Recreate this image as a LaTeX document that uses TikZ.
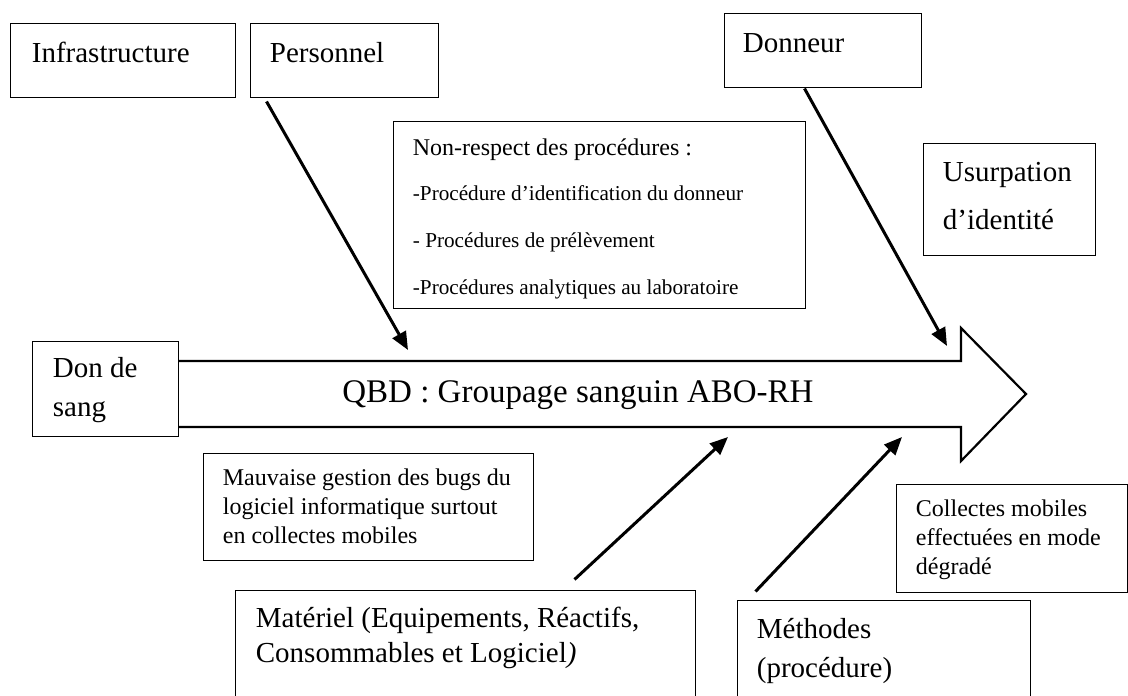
\documentclass[tikz,border=0pt]{standalone}
\usepackage{fontspec}
\setmainfont{Liberation Serif}
\usetikzlibrary{arrows.meta,fit}

\begin{document}
\begin{tikzpicture}[
  x=0.5pt, y=-0.5pt,
  >={Triangle[length=9pt,width=7.5pt]},
  box/.style={draw, line width=0.5pt, inner sep=0pt},
  lbl/.style={anchor=base west, inner sep=0pt, align=left,
              font=\fontsize{14.5pt}{19.5pt}\selectfont},
  note/.style={lbl, font=\fontsize{12pt}{14.5pt}\selectfont},
  cause/.style={->, line width=1.5pt},
  spine/.style={line width=1.1pt, line join=miter}
]
\clip (0,0) rectangle (1128,695);

% Boxes (Word text boxes)
\node[box, fit={(10,24) (235,98)}]     (infra)     {};
\node[box, fit={(250,24) (438,98)}]    (perso)     {};
\node[box, fit={(724,14) (921,88)}]    (donneur)   {};
\node[box, fit={(393,122) (805,308)}]  (nonresp)   {};
\node[box, fit={(923,144) (1095,255)}] (usurp)     {};
\node[box, fit={(32,341) (178,436)}]   (donsang)   {};
\node[box, fit={(203,453) (533,560)}]  (bugs)      {};
\node[box, fit={(235,590) (695,720)}]  (materiel)  {};
\node[box, fit={(737,600) (1030,720)}] (methodes)  {};
\node[box, fit={(896,484) (1127,592)}] (collectes) {};

% Texts (anchored on the last baseline)
\node[lbl] (infra-txt)   at ([shift={(22,39)}]infra.north west)   {Infrastructure};
\node[lbl] (perso-txt)   at ([shift={(20,39)}]perso.north west)   {Personnel};
\node[lbl] (donneur-txt) at ([shift={(19,39)}]donneur.north west) {Donneur};
\node[lbl] (usurp-txt)   at ([shift={(20,86)}]usurp.north west)   {Usurpation\\[4.5pt]d’identité};
\node[lbl] (donsang-txt) at ([shift={(21,76)}]donsang.north west) {Don de\\sang};
\node[lbl] (materiel-txt) at ([shift={(21,73)}]materiel.north west)
  {Matériel (Equipements, Réactifs,\\[-2pt]Consommables et Logiciel\textit{)}};
\node[lbl] (methodes-txt) at ([shift={(20,78)}]methodes.north west) {Méthodes\\(procédure)};
\node[note] (bugs-txt) at ([shift={(20,91)}]bugs.north west)
  {Mauvaise gestion des bugs du\\logiciel informatique surtout\\en collectes mobiles};
\node[note] (collectes-txt) at ([shift={(20,91)}]collectes.north west)
  {Collectes mobiles\\effectuées en mode\\dégradé};
\node[lbl, font=\fontsize{10.6pt}{23.5pt}\selectfont] (nonresp-txt)
  at ([shift={(20,173)}]nonresp.north west)
  {{\fontsize{12pt}{23.5pt}\selectfont Non-respect des procédures :}\\[-1pt]
   -Procédure d’identification du donneur\\
   - Procédures de prélèvement\\
   -Procédures analytiques au laboratoire};

% Main arrow
\draw[spine] (178,361) -- (961,361) -- (961,328) -- (1026,394)
             -- (961,461) -- (961,427) -- (178,427);
\node[anchor=base west, inner sep=0pt, font=\fontsize{16.5pt}{20pt}\selectfont]
  (qbd) at (342,402) {QBD : Groupage sanguin ABO-RH};

% Causes
\coordinate (persoTip)   at (408,350);
\coordinate (donneurTip) at (947,346);
\coordinate (matTip)     at (728,437);
\coordinate (methTip)    at (902,437);

\draw[cause] ([shift={(17,3)}]perso.south west)      -- (persoTip);
\draw[cause] ([shift={(81,0)}]donneur.south west)    -- (donneurTip);
\draw[cause] ([shift={(340,-10)}]materiel.north west) -- (matTip);
\draw[cause] ([shift={(19,-8)}]methodes.north west)   -- (methTip);
\end{tikzpicture}
\end{document}
